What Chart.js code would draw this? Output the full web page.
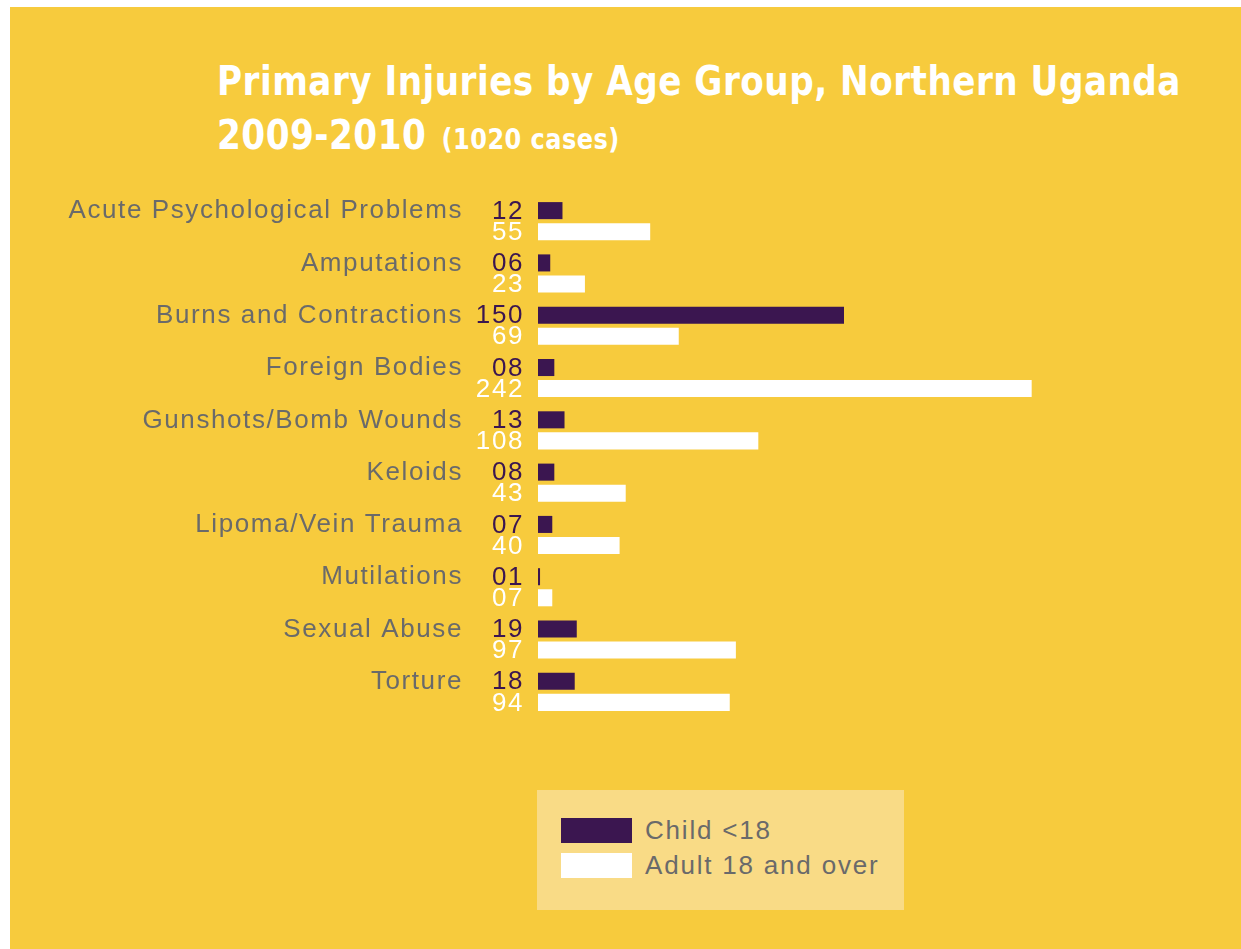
<!DOCTYPE html>
<html>
<head>
<meta charset="utf-8">
<title>Primary Injuries by Age Group</title>
<script src="https://cdn.jsdelivr.net/npm/chart.js"></script>
<style>
  html, body { margin: 0; padding: 0; background: #fff; }
  body { width: 1241px; height: 949px; position: relative; overflow: hidden; }
  #panel { position: absolute; left: 10px; top: 7px; width: 1231px; height: 942px; background: #F7CB3D; }
  .title { position: absolute; left: 217px; color: #fff; font-family: "DejaVu Sans Condensed", "DejaVu Sans", sans-serif; font-stretch: condensed; font-weight: bold; white-space: nowrap; transform-origin: 0 0; }
  #t1 { top: 58px; font-size: 40px; letter-spacing: 0.5px; }
  #t2 { top: 112px; font-size: 40px; letter-spacing: 0.5px; }
  #t2 small { font-size: 28px; margin-left: 16px; }
  #legend { position: absolute; left: 537px; top: 790px; width: 367px; height: 120px; background: #F9DB86; font-family: "Liberation Sans", Arial, sans-serif; font-size: 26px; letter-spacing: 1.8px; color: #6A6A6A; }
  .item { position: absolute; left: 24px; height: 25px; line-height: 25px; }
  .sw { position: absolute; left: 0; top: 0; width: 71px; height: 25px; }
  .item span { position: absolute; left: 84px; top: 0; white-space: nowrap; }
  canvas { position: absolute; left: 0; top: 0; }
</style>
</head>
<body>
<div id="panel"></div>
<div class="title" id="t1">Primary Injuries by Age Group, Northern Uganda</div>
<div class="title" id="t2">2009-2010<small>(1020 cases)</small></div>
<canvas id="chart" width="1241" height="949"></canvas>
<div id="legend">
  <div class="item" style="top:28px"><div class="sw" style="background:#3B1650"></div><span>Child &lt;18</span></div>
  <div class="item" style="top:63px"><div class="sw" style="background:#fff"></div><span>Adult 18 and over</span></div>
</div>
<script>
const categories = [
  'Acute Psychological Problems', 'Amputations', 'Burns and Contractions',
  'Foreign Bodies', 'Gunshots/Bomb Wounds', 'Keloids', 'Lipoma/Vein Trauma',
  'Mutilations', 'Sexual Abuse', 'Torture'
];
const childValues = [12, 6, 150, 8, 13, 8, 7, 1, 19, 18];
const adultValues = [55, 23, 69, 242, 108, 43, 40, 7, 97, 94];

const purple = '#3B1650';
const grey = '#6A6A6A';
const labelFont = '"Liberation Sans", Arial, sans-serif';

// squeeze the condensed title to the width it has in the original
function fitTitle(id, w) {
  const el = document.getElementById(id);
  el.style.transform = 'scaleX(' + (w / el.offsetWidth) + ')';
}
fitTitle('t1', 964);
fitTitle('t2', 403);

// numbers written left of the bars, like "06", "150"
const valueLabels = {
  id: 'valueLabels',
  afterDatasetsDraw(chart) {
    const ctx = chart.ctx;
    ctx.save();
    ctx.font = '26px ' + labelFont;
    ctx.textAlign = 'right';
    ctx.textBaseline = 'middle';
    const x = chart.chartArea.left - 14;
    chart.data.datasets.forEach((ds, di) => {
      const meta = chart.getDatasetMeta(di);
      ctx.fillStyle = di === 0 ? purple : '#fff';
      meta.data.forEach((bar, i) => {
        ctx.fillText(String(ds.data[i]).padStart(2, '0'), x, bar.y + 1);
      });
    });
    ctx.restore();
  }
};

const spacing = {
  id: 'spacing',
  beforeDraw(chart) { chart.ctx.letterSpacing = '1.6px'; }
};

new Chart(document.getElementById('chart'), {
  type: 'bar',
  data: {
    labels: categories,
    datasets: [
      { label: 'Child <18', data: childValues, backgroundColor: purple, borderWidth: 0 },
      { label: 'Adult 18 and over', data: adultValues, backgroundColor: '#fff', borderWidth: 0 }
    ]
  },
  options: {
    indexAxis: 'y',
    responsive: false,
    animation: false,
    categoryPercentage: 0.805,
    barPercentage: 0.81,
    layout: { padding: { top: 195, bottom: 231, left: 0, right: 91 } },
    plugins: {
      legend: { display: false },
      tooltip: { enabled: false }
    },
    scales: {
      x: { display: false, min: 0, max: 300 },
      y: {
        grid: { display: false },
        border: { display: false },
        afterFit(scale) { scale.width = 538; },
        ticks: {
          color: grey,
          padding: 67,
          labelOffset: -10,
          font: { family: labelFont, size: 26 }
        }
      }
    }
  },
  plugins: [spacing, valueLabels]
});
</script>
</body>
</html>
